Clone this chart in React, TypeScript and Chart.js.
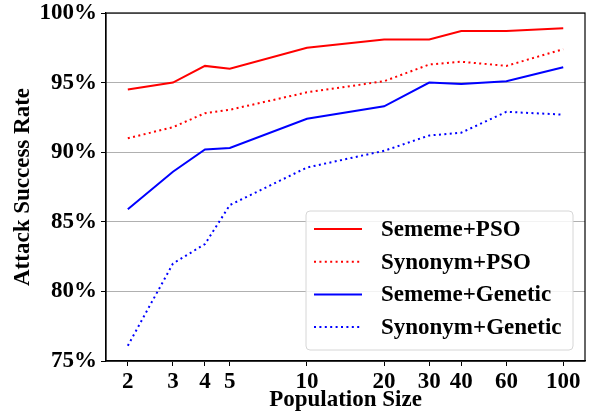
import React, { useEffect, useRef } from "react";
import { Chart, registerables } from "chart.js";

Chart.register(...registerables);

const populationSizes = [2, 3, 4, 5, 10, 20, 30, 40, 60, 100];
const xTickValues = [2, 3, 4, 5, 10, 20, 30, 40, 60, 100];
const yTickValues = [75, 80, 85, 90, 95, 100];

const sememePSO = [94.5, 95.0, 96.2, 96.0, 97.5, 98.1, 98.1, 98.7, 98.7, 98.9];
const synonymPSO = [91.0, 91.8, 92.8, 93.05, 94.3, 95.1, 96.3, 96.5, 96.2, 97.4];
const sememeGenetic = [85.9, 88.6, 90.2, 90.3, 92.4, 93.3, 95.0, 94.9, 95.1, 96.1];
const synonymGenetic = [76.1, 82.0, 83.4, 86.2, 88.9, 90.1, 91.2, 91.4, 92.9, 92.7];

const seriesLabels = ["Sememe+PSO", "Synonym+PSO", "Sememe+Genetic", "Synonym+Genetic"];

const FONT = "'Liberation Serif', 'Times New Roman', serif";
const FS = 23;

const framePlugin = {
  id: "frame",
  afterDraw(chart: any) {
    const { ctx, chartArea } = chart;
    ctx.save();
    ctx.strokeStyle = "#000";
    ctx.lineWidth = 1.2;
    ctx.strokeRect(chartArea.left, chartArea.top, chartArea.right - chartArea.left, chartArea.bottom - chartArea.top);
    ctx.restore();
  },
};

const legendPlugin = {
  id: "innerLegend",
  afterDraw(chart: any) {
    const { ctx, chartArea } = chart;
    const w = 267;
    const h = 139;
    const x = chartArea.right - 12 - w;
    const y = chartArea.bottom - 11 - h;
    ctx.save();
    ctx.beginPath();
    const r = 4;
    ctx.moveTo(x + r, y);
    ctx.lineTo(x + w - r, y);
    ctx.quadraticCurveTo(x + w, y, x + w, y + r);
    ctx.lineTo(x + w, y + h - r);
    ctx.quadraticCurveTo(x + w, y + h, x + w - r, y + h);
    ctx.lineTo(x + r, y + h);
    ctx.quadraticCurveTo(x, y + h, x, y + h - r);
    ctx.lineTo(x, y + r);
    ctx.quadraticCurveTo(x, y, x + r, y);
    ctx.closePath();
    ctx.fillStyle = "rgba(255,255,255,0.85)";
    ctx.fill();
    ctx.strokeStyle = "#d6d6d6";
    ctx.lineWidth = 1;
    ctx.stroke();

    chart.data.datasets.forEach((ds: any, i: number) => {
      const cy = y + 18 + i * 32.7;
      ctx.beginPath();
      ctx.setLineDash(ds.borderDash || []);
      ctx.strokeStyle = ds.borderColor;
      ctx.lineWidth = ds.borderWidth;
      ctx.moveTo(x + 8, cy);
      ctx.lineTo(x + 56, cy);
      ctx.stroke();
      ctx.setLineDash([]);
      ctx.fillStyle = "#000";
      ctx.font = `bold ${FS}px ${FONT}`;
      ctx.textBaseline = "middle";
      ctx.textAlign = "left";
      ctx.fillText(ds.label, x + 75, cy + 1);
    });
    ctx.restore();
  },
};

export default function App() {
  const canvasRef = useRef<HTMLCanvasElement | null>(null);

  useEffect(() => {
    if (!canvasRef.current) return;
    const mk = (label: string, data: number[], color: string, dotted: boolean) => ({
      label,
      data: populationSizes.map((p, i) => ({ x: p, y: data[i] })),
      borderColor: color,
      backgroundColor: color,
      borderWidth: 2,
      borderDash: dotted ? [2, 3.4] : [],
      pointRadius: 0,
      tension: 0,
      fill: false,
    });
    const chart = new Chart(canvasRef.current, {
      type: "line",
      data: {
        datasets: [
          mk(seriesLabels[0], sememePSO, "#ff0000", false),
          mk(seriesLabels[1], synonymPSO, "#ff0000", true),
          mk(seriesLabels[2], sememeGenetic, "#0000ff", false),
          mk(seriesLabels[3], synonymGenetic, "#0000ff", true),
        ],
      },
      options: {
        animation: false,
        responsive: true,
        maintainAspectRatio: false,
        layout: { padding: { top: 13, right: 4, left: 0, bottom: 0 } },
        plugins: { legend: { display: false }, tooltip: { enabled: false } },
        scales: {
          x: {
            type: "logarithmic",
            min: 1.644,
            max: 121.6,
            afterBuildTicks(scale: any) {
              scale.ticks = xTickValues.map((v) => ({ value: v }));
            },
            afterFit(scale: any) {
              scale.height = 57;
              scale.paddingLeft = 0;
              scale.paddingRight = 0;
            },
            ticks: {
              autoSkip: false,
              maxRotation: 0,
              padding: 2,
              color: "#000",
              font: { family: FONT, size: FS, weight: "bold" },
              callback: (v: any) => String(v),
            },
            grid: { drawOnChartArea: false, drawTicks: true, tickLength: 5, tickColor: "#000" },
            border: { display: true, color: "#000", width: 1.2 },
            title: {
              display: true,
              text: "Population Size",
              color: "#000",
              font: { family: FONT, size: FS, weight: "bold" },
              padding: { top: 0, bottom: 4 },
            },
          },
          y: {
            type: "linear",
            min: 75,
            max: 100,
            afterBuildTicks(scale: any) {
              scale.ticks = yTickValues.map((v) => ({ value: v }));
            },
            afterFit(scale: any) {
              scale.width = 106;
              scale.paddingTop = 0;
              scale.paddingBottom = 0;
            },
            ticks: {
              padding: 4,
              color: "#000",
              font: { family: FONT, size: FS, weight: "bold" },
              callback: (v: any) => `${v}%`,
            },
            grid: { color: "#b0b0b0", lineWidth: 1, drawTicks: true, tickLength: 5, tickColor: "#000" },
            border: { display: true, color: "#000", width: 1.2 },
            title: {
              display: true,
              text: "Attack Success Rate",
              color: "#000",
              font: { family: FONT, size: FS, weight: "bold" },
              padding: { top: 9, bottom: 0 },
            },
          },
        },
      },
      plugins: [framePlugin, legendPlugin],
    } as any);
    return () => chart.destroy();
  }, []);

  return (
    <div style={{ position: "absolute", left: 0, top: 0, width: 589, height: 418, background: "#fff" }}>
      <canvas ref={canvasRef} />
    </div>
  );
}
